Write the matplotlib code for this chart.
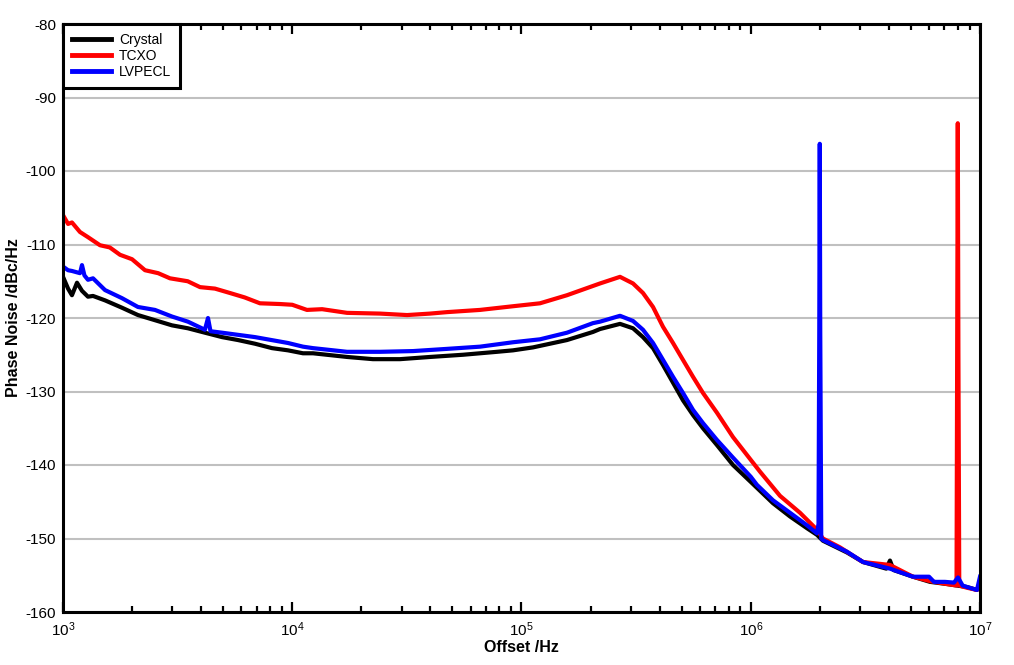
import matplotlib
matplotlib.use("Agg")
import matplotlib.pyplot as plt
import numpy as np

plt.rcParams['font.family'] = ['Liberation Sans', 'DejaVu Sans']
plt.rcParams['mathtext.fontset'] = 'custom'
plt.rcParams['mathtext.rm'] = 'Liberation Sans'
plt.rcParams['mathtext.it'] = 'Liberation Sans'
plt.rcParams['axes.unicode_minus'] = False

# offset frequency (Hz) and phase noise (dBc/Hz)
crystal_f = [1000, 1052, 1094, 1151, 1210, 1285, 1352, 1525, 1808, 2123, 2519, 2988,
             3508, 4160, 4940, 5800, 6880, 8160, 9580, 11140, 12320, 17340, 22500,
             29510, 39920, 55590, 78160, 91800, 112200, 157900, 204900, 220000,
             269000, 306500, 338800, 374700, 414300, 458000, 506300, 559900,
             619000, 712600, 836700, 1000000, 1250000, 1483000, 1759000, 1945000,
             2064000, 2628000, 3088000, 3900000, 4049000, 4200000, 5101000, 6053000,
             7180000, 8774000, 9700000, 10000000]
crystal_db = [-114.4, -116.0, -116.9, -115.2, -116.3, -117.1, -117.0, -117.6, -118.6,
              -119.6, -120.3, -121.0, -121.4, -122.0, -122.6, -123.0, -123.5, -124.1,
              -124.4, -124.8, -124.8, -125.3, -125.6, -125.6, -125.3, -125.0, -124.6,
              -124.4, -124.0, -123.0, -121.9, -121.5, -120.8, -121.4, -122.6, -124.1,
              -126.4, -128.8, -131.2, -133.2, -135.0, -137.3, -140.0, -142.3, -145.2,
              -147.0, -148.6, -149.5, -150.3, -151.9, -153.2, -154.1, -153.0, -154.3,
              -155.2, -155.9, -156.2, -156.6, -157.0, -156.5]

tcxo_f = [1000, 1052, 1094, 1186, 1285, 1450, 1600, 1773, 2000, 2279, 2600, 2928,
          3500, 3960, 4600, 5350, 6200, 7230, 8850, 10000, 11590, 13500, 17340,
          24150, 31690, 39920, 47330, 65920, 91800, 120400, 157900, 220000,
          269000, 306500, 338800, 374700, 414300, 458000, 506300, 559900, 619000,
          712600, 836700, 1000000, 1097000, 1342000, 1640000, 1945000, 2064000,
          2449000, 3088000, 4049000, 5101000, 6053000, 7180000, 7900000, 7950000,
          8000000, 8050000, 8120000, 8774000, 9700000, 10000000]
tcxo_db = [-106.0, -107.2, -107.0, -108.3, -109.0, -110.1, -110.4, -111.4, -112.0,
           -113.5, -113.9, -114.6, -115.0, -115.8, -116.0, -116.6, -117.2, -118.0,
           -118.1, -118.2, -118.9, -118.8, -119.3, -119.4, -119.6, -119.4, -119.2,
           -118.9, -118.4, -118.0, -116.9, -115.3, -114.4, -115.3, -116.6, -118.5,
           -121.2, -123.4, -125.7, -128.0, -130.2, -132.9, -136.2, -139.3, -140.9,
           -144.2, -146.5, -148.8, -150.0, -151.2, -153.2, -153.6, -155.2, -155.8,
           -156.2, -156.4, -125.0, -93.5, -125.0, -156.4, -156.7, -157.0, -156.6]

lvpecl_f = [1000, 1052, 1094, 1186, 1210, 1240, 1285, 1352, 1525, 1808, 2123, 2519,
            2988, 3508, 4160, 4290, 4400, 4940, 6880, 9580, 11140, 12320, 17340,
            24150, 33660, 47330, 65920, 91800, 120400, 157900, 204900, 220000,
            269000, 306500, 338800, 374700, 414300, 458000, 506300, 559900, 619000,
            712600, 836700, 1000000, 1064000, 1250000, 1483000, 1759000, 1945000,
            1975000, 1990000, 2000000, 2010000, 2030000, 2064000, 2628000, 3088000,
            4049000, 5101000, 5993000, 6300000, 7030000, 7700000, 8017000, 8400000,
            8774000, 9700000, 10000000]
lvpecl_db = [-113.0, -113.5, -113.6, -113.9, -112.8, -114.2, -114.8, -114.6, -116.2,
             -117.3, -118.5, -118.9, -119.8, -120.5, -121.6, -120.0, -121.8, -122.0,
             -122.6, -123.4, -123.9, -124.1, -124.6, -124.6, -124.5, -124.2, -123.9,
             -123.3, -122.9, -122.0, -120.7, -120.5, -119.7, -120.4, -121.6, -123.4,
             -125.7, -128.0, -130.2, -132.5, -134.3, -136.6, -139.0, -141.6, -142.7,
             -144.8, -146.5, -148.2, -149.3, -148.0, -122.0, -96.3, -122.0, -150.0,
             -150.2, -151.8, -153.2, -154.1, -155.2, -155.2, -155.9, -155.9, -156.0,
             -155.3, -156.4, -156.6, -157.0, -155.2]

y_ticks = np.arange(-160, -79, 10)

fig = plt.figure(figsize=(10.14, 6.65), dpi=100)
ax = fig.add_axes([63 / 1014, 1 - 612 / 665, 917 / 1014, 588 / 665])

ax.plot(crystal_f, crystal_db, color='black', lw=3, label='Crystal')
ax.plot(tcxo_f, tcxo_db, color='#ff0000', lw=3, label='TCXO')
ax.plot(lvpecl_f, lvpecl_db, color='#0000ff', lw=3, label='LVPECL')

ax.set_xscale('log')
ax.set_xlim(1e3, 1e7)
ax.set_ylim(-160, -80)
ax.set_yticks(y_ticks)
ax.yaxis.grid(True, color='#c0c0c0', lw=1.5)
ax.set_axisbelow(True)

for s in ax.spines.values():
    s.set_linewidth(2.2)

ax.tick_params(axis='x', which='both', direction='in', top=True, width=1.6, labelsize=11, pad=6)
ax.tick_params(axis='x', which='major', length=7)
ax.tick_params(axis='x', which='minor', length=4)
ax.tick_params(axis='y', length=0, labelsize=11, pad=5)

ax.set_xlabel('Offset /Hz', fontsize=11.5, fontweight='bold', labelpad=1)
ax.set_ylabel('Phase Noise /dBc/Hz', fontsize=11.5, fontweight='bold', labelpad=3)

leg = ax.legend(loc='upper left', borderaxespad=0, fancybox=False, framealpha=1,
                edgecolor='black', fontsize=10, handlelength=2.8, handletextpad=0.6,
                labelspacing=0.17, borderpad=0.62)
leg.get_frame().set_linewidth(2.2)
for h in leg.get_lines():
    h.set_linewidth(3.5)

fig.savefig('out.png', dpi=100)
